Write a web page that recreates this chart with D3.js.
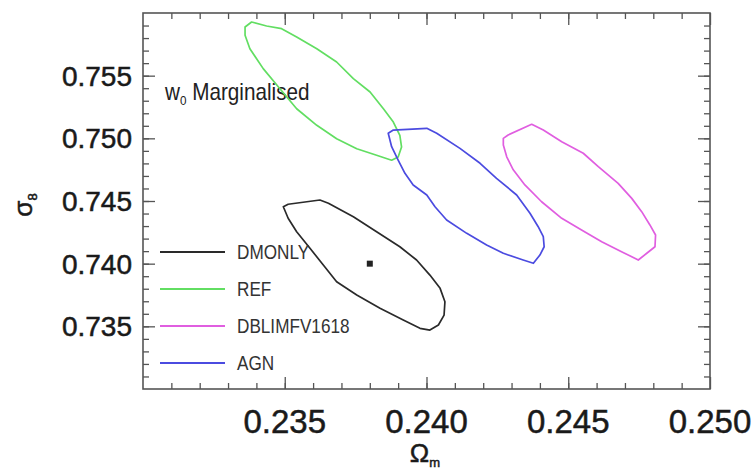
<!DOCTYPE html>
<html>
<head>
<meta charset="utf-8">
<script src="https://cdn.jsdelivr.net/npm/d3@7"></script>
<style>
  body { margin: 0; background: #fff; }
  svg { font-family: "Liberation Sans", Arial, sans-serif; }
</style>
</head>
<body>
<svg id="chart" width="753" height="475"></svg>
<script>
// 1-sigma contours in (Omega_m, sigma_8)
const seriesNames = ['DMONLY', 'REF', 'DBLIMFV1618', 'AGN'];
const seriesColors = ['#2a2a2a', '#62de62', '#e05ee0', '#4b4be0'];

const dmonly = [
  [0.23495, 0.74454], [0.23512, 0.74474], [0.23624, 0.74508], [0.23654, 0.74482],
  [0.23742, 0.74375], [0.23824, 0.74255], [0.23906, 0.74135], [0.23965, 0.74029],
  [0.24012, 0.73909], [0.24048, 0.73803], [0.24065, 0.73696], [0.24062, 0.73590],
  [0.24042, 0.73511], [0.24012, 0.73470], [0.23977, 0.73484], [0.23918, 0.73550],
  [0.23836, 0.73644], [0.23754, 0.73750], [0.23683, 0.73856], [0.23636, 0.73989],
  [0.23589, 0.74123], [0.23542, 0.74255], [0.23512, 0.74362]
];
const ref = [
  [0.23360, 0.75888], [0.23383, 0.75928], [0.23436, 0.75896], [0.23489, 0.75875],
  [0.23542, 0.75809], [0.23613, 0.75715], [0.23683, 0.75609], [0.23742, 0.75476],
  [0.23801, 0.75370], [0.23848, 0.75236], [0.23883, 0.75130], [0.23906, 0.75024],
  [0.23912, 0.74931], [0.23900, 0.74851], [0.23877, 0.74825], [0.23824, 0.74865],
  [0.23754, 0.74917], [0.23683, 0.74997], [0.23613, 0.75104], [0.23542, 0.75236],
  [0.23483, 0.75396], [0.23424, 0.75556], [0.23377, 0.75715], [0.23360, 0.75822]
];
const dblimfv = [
  [0.24271, 0.75000], [0.24288, 0.75027], [0.24371, 0.75112], [0.24412, 0.75066],
  [0.24477, 0.74973], [0.24553, 0.74881], [0.24606, 0.74774], [0.24676, 0.74641],
  [0.24724, 0.74521], [0.24759, 0.74415], [0.24788, 0.74309], [0.24808, 0.74229],
  [0.24806, 0.74135], [0.24777, 0.74083], [0.24747, 0.74029], [0.24688, 0.74096],
  [0.24618, 0.74175], [0.24547, 0.74269], [0.24477, 0.74362], [0.24406, 0.74494],
  [0.24347, 0.74628], [0.24306, 0.74749], [0.24283, 0.74853], [0.24271, 0.74947]
];
const agn = [
  [0.23865, 0.75040], [0.23883, 0.75066], [0.24001, 0.75080], [0.24036, 0.75040],
  [0.24118, 0.74920], [0.24189, 0.74801], [0.24247, 0.74681], [0.24318, 0.74548],
  [0.24365, 0.74402], [0.24394, 0.74295], [0.24412, 0.74215], [0.24415, 0.74135],
  [0.24400, 0.74069], [0.24377, 0.74003], [0.24341, 0.74029], [0.24271, 0.74083],
  [0.24212, 0.74149], [0.24142, 0.74242], [0.24071, 0.74348], [0.24030, 0.74454],
  [0.24001, 0.74548], [0.23953, 0.74628], [0.23924, 0.74721], [0.23900, 0.74827],
  [0.23877, 0.74933]
];
const contours = [dmonly, ref, dblimfv, agn];
const fiducial = [0.238, 0.740];

const xTicks = [0.235, 0.240, 0.245, 0.250];
const yTicks = [0.735, 0.740, 0.745, 0.750, 0.755];

const svg = d3.select('#chart');
const x = d3.scaleLinear().domain([0.230, 0.250]).range([143, 710]);
const y = d3.scaleLinear().domain([0.730, 0.760]).range([389, 13]);

const xMinor = d3.range(231, 250).map(d => d / 1000);
const yMinor = d3.range(731, 760).map(d => d / 1000);
const frame = '#555';

// axes, ticks pointing inward on all four sides
function tickAxis(axisFn, scale, major, minor, tx, ty) {
  svg.append('g').attr('transform', `translate(${tx},${ty})`)
    .call(axisFn(scale).tickValues(minor).tickSize(6).tickFormat(''))
    .call(g => g.select('.domain').remove())
    .call(g => g.selectAll('line').attr('stroke', frame).attr('stroke-width', 1.3));
  svg.append('g').attr('transform', `translate(${tx},${ty})`)
    .call(axisFn(scale).tickValues(major).tickSize(12).tickFormat(''))
    .call(g => g.select('.domain').remove())
    .call(g => g.selectAll('line').attr('stroke', frame).attr('stroke-width', 1.3));
}
tickAxis(d3.axisTop, x, xTicks, xMinor, 0, 389);
tickAxis(d3.axisBottom, x, xTicks, xMinor, 0, 13);
tickAxis(d3.axisRight, y, yTicks, yMinor, 143, 0);
tickAxis(d3.axisLeft, y, yTicks, yMinor, 710, 0);

svg.append('rect')
  .attr('x', x(0.230)).attr('y', y(0.760))
  .attr('width', x(0.250) - x(0.230)).attr('height', y(0.730) - y(0.760))
  .attr('fill', 'none').attr('stroke', frame).attr('stroke-width', 1.6);

// tick labels
svg.append('g').selectAll('text').data(xTicks).join('text')
  .attr('x', d => x(d)).attr('y', 433)
  .attr('text-anchor', 'middle')
  .style('font-size', '33px').attr('fill', '#1a1a1a')
  .attr('stroke', '#1a1a1a').attr('stroke-width', 0.5)
  .text(d => d3.format('.3f')(d));

svg.append('g').selectAll('text').data(yTicks).join('text')
  .attr('x', 132).attr('y', d => y(d) + 10)
  .attr('text-anchor', 'end')
  .style('font-size', '28px').attr('fill', '#1a1a1a')
  .attr('stroke', '#1a1a1a').attr('stroke-width', 0.5)
  .text(d => d3.format('.3f')(d));

// axis titles
const xt = svg.append('text').attr('x', 425).attr('y', 462)
  .attr('text-anchor', 'middle').style('font-size', '26px').attr('fill', '#1a1a1a')
  .attr('stroke', '#1a1a1a').attr('stroke-width', 0.5);
xt.append('tspan').text('Ω');
xt.append('tspan').attr('dy', 5).style('font-size', '13px').text('m');

const yt = svg.append('text').attr('transform', 'translate(32,205) rotate(-90)')
  .attr('text-anchor', 'middle').style('font-size', '26px').attr('fill', '#1a1a1a')
  .attr('stroke', '#1a1a1a').attr('stroke-width', 0.5);
yt.append('tspan').text('σ');
yt.append('tspan').attr('dy', 5).style('font-size', '13px').text('8');

// annotation
const note = svg.append('text').attr('transform', 'translate(165,100) scale(0.9,1)')
  .style('font-size', '23px').attr('fill', '#222');
note.append('tspan').text('w');
note.append('tspan').attr('dy', 5).style('font-size', '13px').text('0');
note.append('tspan').attr('dy', -5).text(' Marginalised');

// contours
const line = d3.line().x(d => x(d[0])).y(d => y(d[1])).curve(d3.curveLinearClosed);
svg.append('g').selectAll('path').data(contours).join('path')
  .attr('d', line)
  .attr('fill', 'none')
  .attr('stroke', (d, i) => seriesColors[i])
  .attr('stroke-width', 1.7)
  .attr('stroke-linejoin', 'round');

svg.append('rect')
  .attr('x', x(fiducial[0]) - 3).attr('y', y(fiducial[1]) - 3)
  .attr('width', 6).attr('height', 6).attr('fill', '#222');

// legend
const legend = svg.append('g').selectAll('g').data(seriesNames).join('g')
  .attr('transform', (d, i) => `translate(160,${252 + i * 37})`);
legend.append('line')
  .attr('x1', 0).attr('x2', 65)
  .attr('stroke', (d, i) => seriesColors[i]).attr('stroke-width', 1.8);
legend.append('text')
  .attr('transform', 'translate(77,7) scale(0.88,1)')
  .style('font-size', '19.5px').attr('fill', '#333')
  .text(d => d);
</script>
</body>
</html>
